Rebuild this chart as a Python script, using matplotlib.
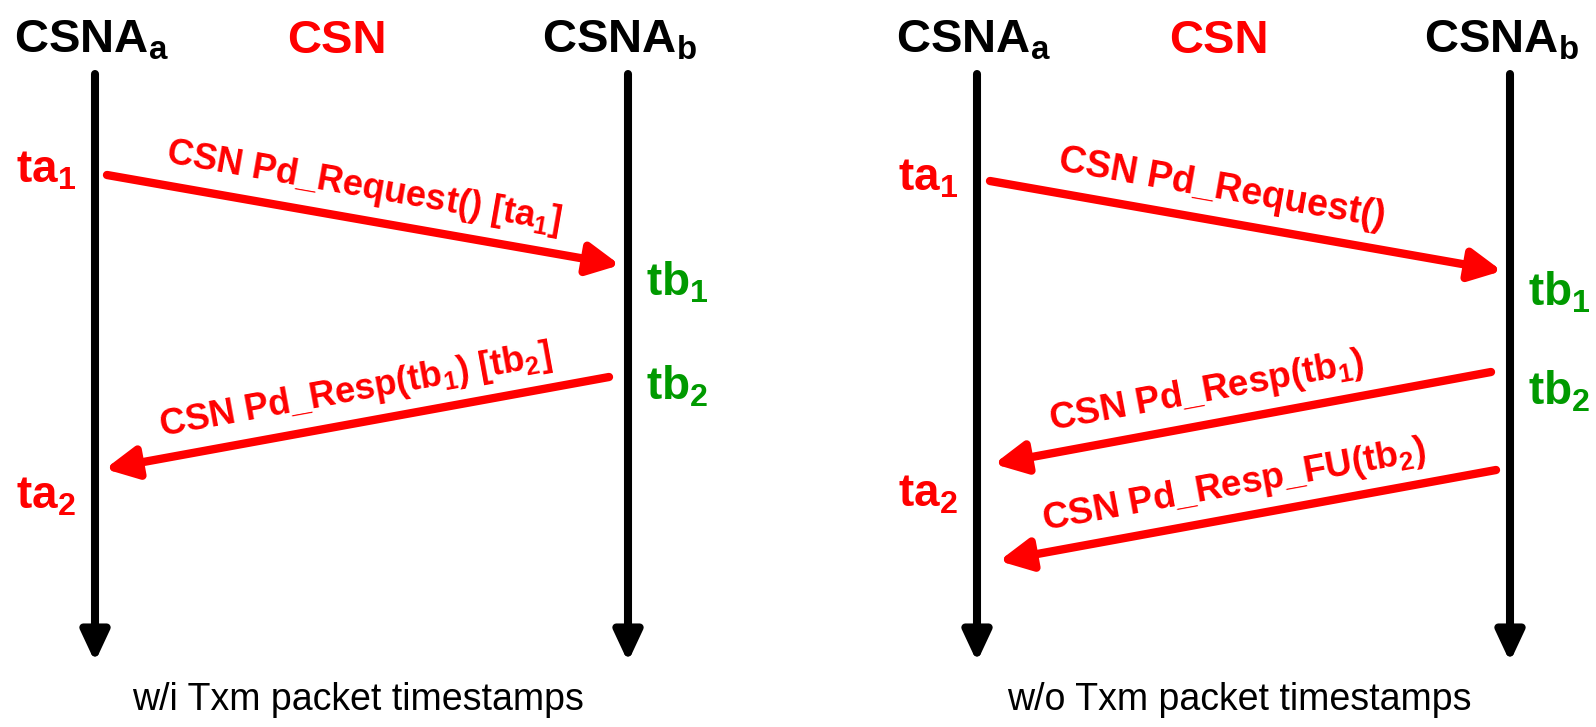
import math

import matplotlib
matplotlib.use("Agg")
import matplotlib.pyplot as plt

plt.rcParams["mathtext.fontset"] = "custom"
plt.rcParams["mathtext.rm"] = "Liberation Sans:bold"
plt.rcParams["mathtext.it"] = "Liberation Sans:bold"
plt.rcParams["mathtext.bf"] = "Liberation Sans:bold"
plt.rcParams["mathtext.default"] = "rm"

BOLD = ["Liberation Sans", "DejaVu Sans"]
RED = "#ff0000"
GREEN = "#009a00"

# lifelines of each panel (x of CSNA_a, x of CSNA_b)
life_a = [95, 977]
life_b = [628, 1510]
life_top, life_tip = 74, 662

captions = ["w/i Txm packet timestamps", "w/o Txm packet timestamps"]
heads = ["CSNA$_a$", "CSN", "CSNA$_b$"]
head_colors = ["black", RED, "black"]
head_dx = [-4, 242, 525]          # header centre relative to CSNA_a lifeline

# messages
msg_x0 = [107, 609, 990, 1491, 1496]
msg_y0 = [175, 377, 181, 372, 470]
msg_x1 = [620, 105, 1502, 994, 999]
msg_y1 = [265, 469, 271, 464, 561]
msg_shift = [-5, 4, -29, -30, -8]
msg_text = ["CSN Pd_Request() [ta$_1$]", "CSN Pd_Resp(tb$_1$) [tb$_2$]",
            "CSN Pd_Request()", "CSN Pd_Resp(tb$_1$)", "CSN Pd_Resp_FU(tb$_2$)"]
msg_size = [26, 26, 27, 26.5, 26.5]

# timestamp labels
ts_panel = [0, 0, 0, 0, 1, 1, 1, 1]
ts_side = ["a", "b", "b", "a", "a", "b", "b", "a"]
ts_y = [171, 283, 387, 496, 178, 293, 392, 494]
ts_text = ["ta$_1$", "tb$_1$", "tb$_2$", "ta$_2$"] * 2

fig = plt.figure(figsize=(15.96, 7.27), dpi=100)
ax = fig.add_axes([0, 0, 1, 1])
ax.set_xlim(0, 1596)
ax.set_ylim(727, 0)
ax.axis("off")

for p in range(2):
    xa, xb = life_a[p], life_b[p]
    for x in (xa, xb):
        ax.annotate("", xy=(x, life_tip), xytext=(x, life_top),
                    arrowprops=dict(arrowstyle="-|>,head_length=0.9,head_width=0.42",
                                    lw=5.8, color="black", mutation_scale=20,
                                    shrinkA=0, shrinkB=0))
    for h, c, d in zip(heads, head_colors, head_dx):
        ax.text(xa + d, 53, h, ha="center", va="baseline", fontsize=34,
                family=BOLD, weight="bold", color=c)
    ax.text((xa + xb) / 2 - 4, 700, captions[p], ha="center", va="center",
            fontsize=27, family=BOLD, color="black")

for p, side, y, t in zip(ts_panel, ts_side, ts_y, ts_text):
    if side == "a":
        ax.text(life_a[p] - 49, y, t, ha="center", va="center", fontsize=33,
                family=BOLD, weight="bold", color=RED)
    else:
        ax.text(life_b[p] + 49, y, t, ha="center", va="center", fontsize=33,
                family=BOLD, weight="bold", color=GREEN)

for x0, y0, x1, y1, s, t, fs in zip(msg_x0, msg_y0, msg_x1, msg_y1,
                                   msg_shift, msg_text, msg_size):
    ax.annotate("", xy=(x1, y1), xytext=(x0, y0),
                arrowprops=dict(arrowstyle="-|>,head_length=0.95,head_width=0.48",
                                lw=6, color=RED, mutation_scale=20,
                                shrinkA=0, shrinkB=0))
    dx, dy = x1 - x0, y1 - y0
    if dx < 0:
        dx, dy = -dx, -dy
    L = math.hypot(dx, dy)
    ux, uy = dx / L, dy / L
    nx, ny = uy, -ux                     # normal pointing up on screen
    mx = (x0 + x1) / 2 + s + nx * 32
    my = (y0 + y1) / 2 + uy * s / ux + ny * 32
    ang = -math.degrees(math.atan2(dy, dx))
    ax.text(mx, my, t, ha="center", va="center", rotation=ang,
            rotation_mode="anchor", fontsize=fs, family=BOLD, weight="bold",
            color=RED)

fig.savefig("out.png", dpi=100)
